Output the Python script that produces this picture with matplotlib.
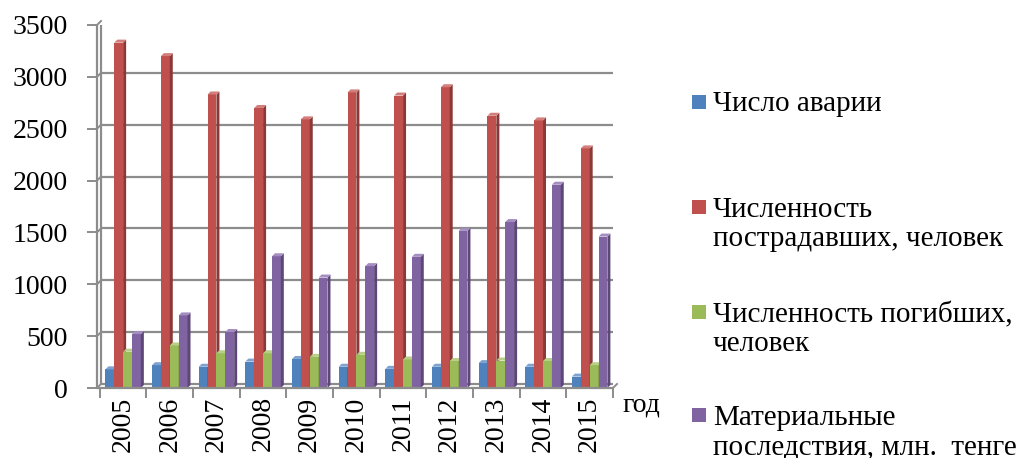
import matplotlib.pyplot as plt
from matplotlib.patches import Polygon, Rectangle
import matplotlib.transforms as mtransforms
import numpy as np

plt.rcParams['font.family'] = ['Liberation Serif', 'DejaVu Serif']

years = ['2005', '2006', '2007', '2008', '2009', '2010', '2011', '2012', '2013', '2014', '2015']
accidents = [180, 220, 205, 255, 280, 205, 185, 205, 240, 205, 110]
injured = [3330, 3200, 2830, 2700, 2590, 2850, 2820, 2900, 2625, 2580, 2310]
killed = [350, 410, 335, 335, 300, 320, 275, 260, 265, 260, 220]
damage = [520, 700, 540, 1270, 1065, 1175, 1265, 1515, 1600, 1960, 1460]

labels = ['Число аварии', 'Численность\nпострадавших, человек',
          'Численность погибших,\nчеловек', 'Материальные\nпоследствия, млн.  тенге']
colors = ['#4F81BD', '#C0504D', '#9BBB59', '#8064A2']
sides = ['#385D8A', '#8C3836', '#71893F', '#5C4776']
tops = ['#7FA3D0', '#D37E7B', '#B7CF86', '#A48DC0']

W, H = 1030, 458
fig = plt.figure(figsize=(W / 100, H / 100), dpi=100)
ax = fig.add_axes([97 / W, 1 - 388 / H, (613 - 97) / W, (388 - 25) / H])
ax.set_xlim(-0.56, 10.5)
ax.set_ylim(0, 3500)
for s in ax.spines.values():
    s.set_visible(False)

# back wall offset (3D look)
off = mtransforms.ScaledTranslation(4 / 100, 4 / 100, fig.dpi_scale_trans)
yticks = np.arange(0, 3501, 500)
grey = '#8c8c8c'
ax.hlines(yticks, 0, 1, transform=ax.get_yaxis_transform() + off, color=grey, lw=1.6, zorder=0.5)
ax.vlines(0, 0, 1, transform=ax.transAxes + off, color=grey, lw=1.6, zorder=0.5)
ax.vlines(0, 0, 1, transform=ax.transAxes, color=grey, lw=1.6, zorder=3, clip_on=False)
ax.hlines(0, 0, 1, transform=ax.transAxes, color=grey, lw=1.6, zorder=3, clip_on=False)
for yt in yticks:
    p0 = ax.transData.transform((-0.56, yt))
    ax.plot([p0[0], p0[0] + 4], [p0[1], p0[1] + 4], color=grey, lw=1.4,
            transform=None, clip_on=False, zorder=3)
pr = ax.transAxes.transform((1, 0))
ax.plot([pr[0], pr[0] + 4], [pr[1], pr[1] + 4], color=grey, lw=1.4, transform=None, clip_on=False)

# bars with fake depth
x = np.arange(len(years))
bw = 0.19
dx = 3 / 46.7
dy = 3 / 0.1037
for i, vals in enumerate([accidents, injured, killed, damage]):
    xs = x - 2 * bw + i * bw
    ax.bar(xs, vals, width=bw, align='edge', color=colors[i], zorder=2 + i * 0.01, lw=0)
    for x0, h in zip(xs, vals):
        x1 = x0 + bw
        ax.add_patch(Polygon([(x1, 0), (x1, h), (x1 + dx, h + dy), (x1 + dx, dy)],
                             closed=True, fc=sides[i], lw=0, zorder=2 + i * 0.01))
        ax.add_patch(Polygon([(x0, h), (x1, h), (x1 + dx, h + dy), (x0 + dx, h + dy)],
                             closed=True, fc=tops[i], lw=0, zorder=2 + i * 0.01))

ax.set_yticks(yticks)
ax.set_yticklabels([str(v) for v in yticks], fontsize=20)
ax.tick_params(axis='y', length=7, width=1.4, color=grey, pad=14)
ax.set_xticks(x)
ax.set_xticklabels(years, rotation=90, fontsize=20)
ax.tick_params(axis='x', length=0, pad=6)
ax.set_xticks(np.arange(-0.5, 10.6, 1), minor=True)
ax.tick_params(axis='x', which='minor', length=7, width=1.4, color=grey)

fig.text(622 / W, 1 - 405 / H, 'год', fontsize=20, va='center', ha='left')

# legend
ys = [102, 207, 312, 415]
for c, lab, yy in zip(colors, labels, ys):
    fig.patches.append(Rectangle((692 / W, 1 - (yy + 7) / H), 14 / W, 14 / H,
                                 transform=fig.transFigure, fc=c, lw=0, figure=fig))
    nl = lab.count('\n')
    fig.text(713 / W, 1 - (yy + 9 + 30 * nl) / H, lab, fontsize=21, va='baseline', ha='left',
             linespacing=1.13, transform=fig.transFigure)

fig.savefig('out.png', dpi=100)
